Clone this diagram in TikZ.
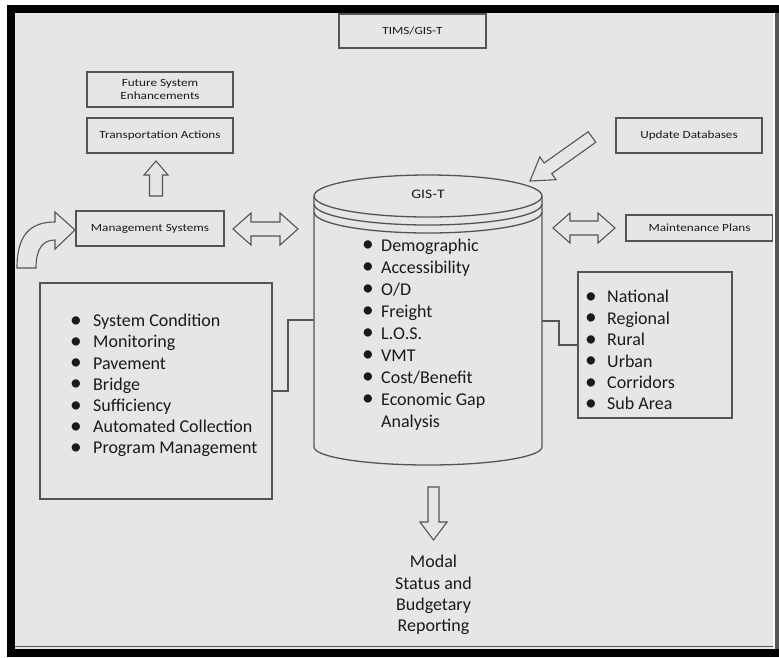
\documentclass[tikz,border=0pt]{standalone}
\usepackage{fontspec}
\setmainfont{Carlito}
\newfontfamily\smallf[FakeStretch=1.2]{Carlito}
\usetikzlibrary{calc}
\definecolor{bg}{HTML}{E6E6E6}
\definecolor{ln}{HTML}{555555}
\definecolor{tx}{HTML}{1A1A1A}
\newcommand\mybul[1]{\makebox[#1][l]{\raisebox{-0.6pt}{\scalebox{1.3}{\textbullet}}}}
\begin{document}
\begin{tikzpicture}[x=1pt,y=-1pt,
  box/.style={draw=ln, line width=1.4pt, fill=bg, inner sep=0pt, text=tx,
    font=\smallf\fontsize{11}{13}\selectfont, align=center},
  blk/.style={draw=ln, line width=1.1pt, fill=bg, line join=miter},
  list/.style={anchor=west, align=left, inner sep=0pt, text=tx},
  conn/.style={draw=ln, line width=1.3pt},
  cylline/.style={draw=ln, line width=1.3pt}
]
\useasboundingbox (0,0) rectangle (779,657);
\fill[white] (0,0) rectangle (779,657);
\fill[bg] (15,13) rectangle (773,649);

% boxes
\node[box, minimum width=147pt, minimum height=34pt] (tims) at (412.5,31) {TIMS/GIS-T};
\node[box, minimum width=146pt, minimum height=35pt] (fut) at (160,89.5) {Future System\\Enhancements};
\node[box, minimum width=146pt, minimum height=35pt] (tra) at (160,135.5) {Transportation Actions};
\node[box, minimum width=146pt, minimum height=35pt] (upd) at (689,135.5) {Update Databases};
\node[box, minimum width=148pt, minimum height=35pt] (mgmt) at (150,228.5) {Management Systems};
\node[box, minimum width=147pt, minimum height=26pt] (mnt) at (699.5,228) {Maintenance Plans};
\node[box, minimum width=232pt, minimum height=216pt] (lbox) at (156,391) {};
\node[box, minimum width=154pt, minimum height=146pt] (rbox) at (655,345) {};

% cylinder
\node[draw=none, minimum width=228pt, minimum height=251pt, inner sep=0pt] (cyl) at (428,321.5) {};
\draw[cylline] (428,196) ellipse[x radius=114, y radius=21];
\draw[cylline] (314,204) arc[start angle=180, end angle=0, x radius=114, y radius=21];
\draw[cylline] (314,212) arc[start angle=180, end angle=0, x radius=114, y radius=21];
\draw[cylline] (314,196) -- (314,447) arc[start angle=180, end angle=0, x radius=114, y radius=18] -- (542,196);
\node[text=tx, font=\smallf\fontsize{13}{15}\selectfont, inner sep=0pt] (gis) at (428,194) {GIS-T};

% lists
\node[list, font=\fontsize{18}{22}\selectfont] (clist) at (362,334.5)
  {\mybul{19pt}Demographic\\\mybul{19pt}Accessibility\\\mybul{19pt}O/D\\\mybul{19pt}Freight\\\mybul{19pt}L.O.S.\\\mybul{19pt}VMT\\\mybul{19pt}Cost/Benefit\\\mybul{19pt}Economic Gap\\\hspace*{19pt}Analysis};
\node[list, font=\fontsize{18}{21.2}\selectfont] (llist) at (70,385.5)
  {\mybul{23pt}System Condition\\\mybul{23pt}Monitoring\\\mybul{23pt}Pavement\\\mybul{23pt}Bridge\\\mybul{23pt}Sufficiency\\\mybul{23pt}Automated Collection\\\mybul{23pt}Program Management};
\node[list, font=\fontsize{18}{21.4}\selectfont] (rlist) at (585,350.5)
  {\mybul{22pt}National\\\mybul{22pt}Regional\\\mybul{22pt}Rural\\\mybul{22pt}Urban\\\mybul{22pt}Corridors\\\mybul{22pt}Sub Area};
\node[align=center, text=tx, inner sep=0pt, font=\fontsize{18}{21.3}\selectfont] (rep) at (433.5,595)
  {Modal\\Status and\\Budgetary\\Reporting};

% connectors
\draw[conn] (lbox.east) -- (288,391) -- (288,320) -- (cyl.west |- 0,320);
\draw[conn] (cyl.east |- 0,321) -- (559,321) |- (rbox.west);

% block arrows
\draw[blk] (233,229) -- (251,213) -- (251,222) -- (280,222) -- (280,213) -- (298,229)
  -- (280,245) -- (280,236) -- (251,236) -- (251,245) -- cycle;
\draw[blk] (553,228) -- (570,213) -- (570,221) -- (598,221) -- (598,213) -- (615,228)
  -- (598,243) -- (598,235) -- (570,235) -- (570,243) -- cycle;
\draw[blk] (156,161) -- (168,175) -- (162.5,175) -- (162.5,196) -- (149.5,196) -- (149.5,175) -- (144,175) -- cycle;
\draw[blk] (428,487) -- (439,487) -- (439,522) -- (447,522) -- (433.5,540) -- (420,522) -- (428,522) -- cycle;
\draw[blk] (530,181) -- (556.05,179.7) -- (551.7,173.6) -- (595.76,142.3) -- (588.24,131.7)
  -- (544.2,162.96) -- (539.85,156.86) -- cycle;
\draw[blk] (17,268) .. controls (17,235) and (30,222) .. (55,222) -- (55,212) -- (75,230)
  -- (55,249) -- (55,240) .. controls (42,240) and (36,250) .. (36,268) -- cycle;

% frame
\fill[white] (773,13) rectangle (775,649);
\fill[ln] (775,13) rectangle (779,649);
\draw[ln, line width=1pt] (15,646.5) -- (773,646.5);
\fill[black] (7,5) rectangle (779,13);
\fill[black] (7,5) rectangle (15,657);
\fill[black] (7,649) rectangle (779,657);
\end{tikzpicture}
\end{document}
